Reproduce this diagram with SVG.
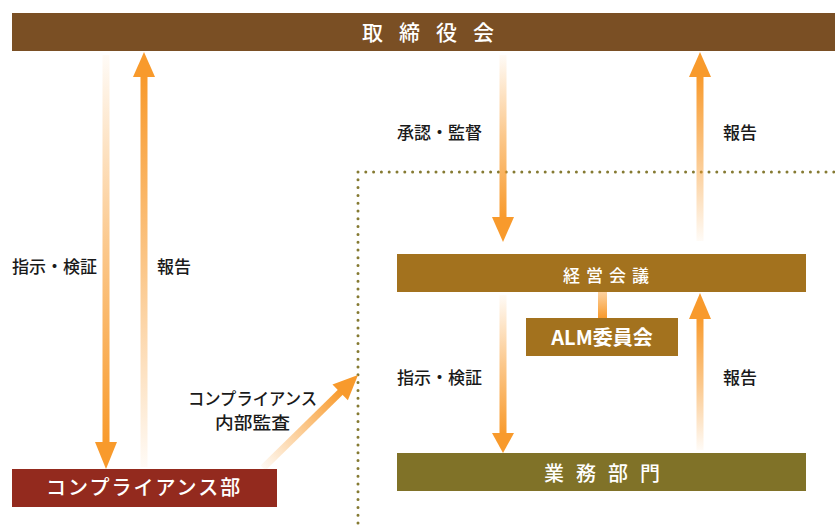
<svg xmlns="http://www.w3.org/2000/svg" width="835" height="525" viewBox="0 0 835 525">
<defs>
<linearGradient id="gDown" x1="0" y1="0" x2="0" y2="1">
<stop offset="0" stop-color="#f89a2c" stop-opacity="0.04"/>
<stop offset="0.5" stop-color="#f89a2c" stop-opacity="0.55"/>
<stop offset="1" stop-color="#f89a2c" stop-opacity="1"/>
</linearGradient>
<linearGradient id="gUp" x1="0" y1="1" x2="0" y2="0">
<stop offset="0" stop-color="#f89a2c" stop-opacity="0.04"/>
<stop offset="0.5" stop-color="#f89a2c" stop-opacity="0.55"/>
<stop offset="1" stop-color="#f89a2c" stop-opacity="1"/>
</linearGradient>
<linearGradient id="gRight" x1="0" y1="0" x2="1" y2="0">
<stop offset="0" stop-color="#f89a2c" stop-opacity="0.05"/>
<stop offset="1" stop-color="#f89a2c" stop-opacity="1"/>
</linearGradient>
<linearGradient id="gLink" x1="0" y1="0" x2="0" y2="1">
<stop offset="0" stop-color="#f89a2c" stop-opacity="0.45"/>
<stop offset="1" stop-color="#f89a2c" stop-opacity="1"/>
</linearGradient>
</defs>
<style>
.head{fill:#f89a2c}
.lbl{font-family:"Noto Sans CJK JP","Noto Sans",sans-serif;font-size:17px;font-weight:500;fill:#1a1a1a}
.wt{font-family:"Noto Sans CJK JP","Noto Sans",sans-serif;fill:#ffffff;font-weight:500}
.dots{fill:none;stroke:#857a32;stroke-width:3;stroke-linecap:round;stroke-dasharray:0 7.8}
</style>
<rect width="835" height="525" fill="#ffffff"/>

<path class="dots" d="M358 172 H835 M358 172 V525"/>

<g id="connectors">
<rect x="102.5" y="55" width="7" height="388" fill="url(#gDown)"/>
<polygon class="head" points="95,442 117,442 106,469"/>
<rect x="140.5" y="76" width="7" height="391" fill="url(#gUp)"/>
<polygon class="head" points="144,52 133,77 155,77"/>
<rect x="499.5" y="55" width="7" height="163" fill="url(#gDown)"/>
<polygon class="head" points="492,217 514,217 503,242"/>
<rect x="696.5" y="76" width="7" height="165" fill="url(#gUp)"/>
<polygon class="head" points="700,52 689,77 711,77"/>
<rect x="499.5" y="295" width="7" height="139" fill="url(#gDown)"/>
<polygon class="head" points="492,433 514,433 503,453"/>
<rect x="696.5" y="318" width="7" height="132" fill="url(#gUp)"/>
<polygon class="head" points="700,293 689,319 711,319"/>
<rect x="598" y="292" width="9" height="26" fill="url(#gLink)"/>
<g transform="translate(263,468) rotate(-44.4)">
<rect x="0" y="-3.5" width="110" height="7" fill="url(#gRight)"/>
<polygon class="head" points="108,-11 133,0 108,11"/>
</g>
</g>

<g id="board">
<rect x="12" y="13" width="823" height="38" fill="#7a4f24"/>
<text class="wt" x="362" y="40" font-size="21" letter-spacing="16">取締役会</text>
</g>

<g id="compliance">
<rect x="12" y="469" width="265" height="38" fill="#932a1e"/>
<text class="wt" x="46" y="495" font-size="20" letter-spacing="2">コンプライアンス部</text>
</g>

<g id="management">
<rect x="397" y="254" width="409" height="38" fill="#a3721e"/>
<text class="wt" x="563" y="282" font-size="17" letter-spacing="6">経営会議</text>
</g>

<g id="alm">
<rect x="526" y="318" width="152" height="38" fill="#a3721e"/>
<text class="wt" x="602" y="345" font-size="20" text-anchor="middle" style="font-weight:700">ALM委員会</text>
</g>

<g id="business">
<rect x="397" y="453" width="409" height="38" fill="#807228"/>
<text class="wt" x="544" y="481" font-size="20" letter-spacing="12">業務部門</text>
</g>

<g id="labels">
<text class="lbl" x="12" y="273">指示・検証</text>
<text class="lbl" x="157" y="273">報告</text>
<text class="lbl" x="397" y="139">承認・監督</text>
<text class="lbl" x="723" y="139">報告</text>
<text class="lbl" x="397" y="384">指示・検証</text>
<text class="lbl" x="723" y="384">報告</text>
<text class="lbl" x="252.5" y="405" text-anchor="middle" textLength="129" lengthAdjust="spacingAndGlyphs">コンプライアンス</text>
<text class="lbl" x="252.5" y="429" text-anchor="middle" textLength="75" lengthAdjust="spacingAndGlyphs">内部監査</text>
</g>
</svg>
